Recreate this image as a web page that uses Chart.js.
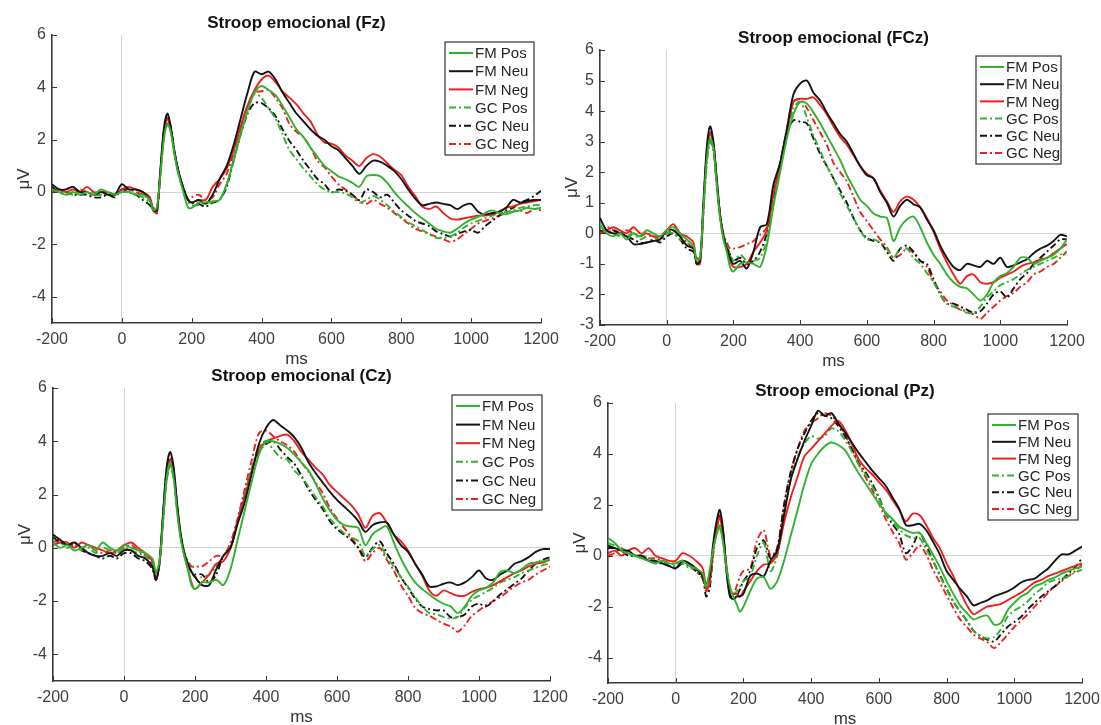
<!DOCTYPE html>
<html>
<head>
<meta charset="utf-8">
<script src="https://cdn.jsdelivr.net/npm/chart.js@4.4.0/dist/chart.umd.min.js"></script>
<style>
  body { margin: 0; background: #fff; }
  #page { position: relative; width: 1101px; height: 725px; overflow: hidden; background: #fff; }
  #page canvas { position: absolute; }
</style>
</head>
<body>
<div id="page"></div>
<script>
// time axis (ms), denser around the P1 peak
const times = [-200,-180,-160,-140,-120,-100,-80,-60,-40,-20,0,20,40,60,80,
  90,100,110,120,130,140,150,160,170,180,190,200,
  220,240,260,280,300,320,340,360,380,400,420,440,460,480,500,520,540,560,580,600,
  620,640,660,680,700,720,740,760,780,800,820,840,860,880,900,920,940,960,980,1000,
  1020,1040,1060,1080,1100,1120,1140,1160,1180,1200];

const seriesLabels = ['FM Pos', 'FM Neu', 'FM Neg', 'GC Pos', 'GC Neu', 'GC Neg'];
const xTicks = [-200, 0, 200, 400, 600, 800, 1000, 1200];
const yTicksWide = [-4, -2, 0, 2, 4, 6];
const yTicksFCz = [-3, -2, -1, 0, 1, 2, 3, 4, 5, 6];

// Fz
const fzFmPos = [0.1,0.0,-0.1,0.0,-0.1,0.0,-0.1,0.1,0.0,-0.1,0.0,0.0,-0.1,-0.1,-0.3,
  -0.7,-0.6,0.6,2.0,2.6,2.3,1.5,0.8,0.3,-0.2,-0.6,-0.6,
  -0.4,-0.4,-0.35,-0.3,0.3,1.2,2.2,3.1,3.8,4.05,3.9,3.7,3.3,2.85,2.4,2.1,1.7,1.35,1.0,0.8,0.6,0.5,0.35,0.2,0.6,0.65,0.6,0.35,0.0,-0.3,-0.55,-0.8,-1.0,-1.2,-1.4,-1.5,-1.55,-1.4,-1.2,-1.05,-0.95,-0.8,-0.7,-0.8,-0.85,-0.75,-0.7,-0.6,-0.65,-0.6];
const fzFmNeu = [0.3,0.1,0.1,0.2,0.0,0.0,-0.1,0.0,-0.1,-0.1,0.3,0.1,0.1,0.0,-0.3,
  -0.7,-0.7,0.8,2.4,3.0,2.5,1.6,0.9,0.4,0.0,-0.3,-0.4,
  -0.3,-0.45,-0.1,0.5,1.0,1.8,2.8,3.8,4.6,4.5,4.6,4.3,3.8,3.4,3.0,2.7,2.4,2.15,2.0,1.75,1.6,1.3,1.0,0.7,1.0,1.2,1.15,1.0,0.8,0.5,0.1,-0.25,-0.5,-0.45,-0.4,-0.45,-0.5,-0.65,-0.5,-0.45,-0.75,-0.85,-0.8,-0.75,-0.6,-0.3,-0.4,-0.35,-0.3,-0.3];
const fzFmNeg = [0.0,0.1,0.0,0.1,0.0,0.2,0.0,0.0,0.0,-0.1,0.1,0.2,0.1,0.0,-0.2,
  -0.7,-0.8,0.7,2.2,2.8,2.4,1.6,0.9,0.4,0.0,-0.3,-0.4,
  -0.3,-0.3,0.2,0.5,0.9,1.6,2.5,3.3,3.9,4.3,4.45,4.2,3.85,3.6,3.35,3.0,2.7,2.2,1.9,1.85,1.7,1.4,1.2,1.0,1.3,1.45,1.35,1.1,0.85,0.65,0.2,-0.15,-0.55,-0.65,-0.55,-0.8,-1.0,-1.05,-1.0,-0.95,-0.9,-0.9,-0.85,-0.75,-0.6,-0.55,-0.45,-0.4,-0.35,-0.3];
const fzGcPos = [0.1,0.0,0.0,-0.1,0.0,0.0,-0.1,-0.1,0.0,-0.1,0.0,0.0,-0.1,-0.2,-0.4,
  -0.6,-0.6,0.6,2.0,2.6,2.3,1.5,0.8,0.3,-0.1,-0.4,-0.5,
  -0.5,-0.4,-0.4,-0.3,0.3,1.3,2.4,3.3,3.75,3.6,3.2,2.8,2.2,1.6,1.25,0.9,0.6,0.3,0.1,0.0,0.0,-0.05,-0.2,-0.4,-0.3,-0.15,-0.3,-0.5,-0.75,-0.95,-1.15,-1.3,-1.45,-1.6,-1.75,-1.75,-1.7,-1.55,-1.35,-1.2,-1.1,-1.0,-0.9,-0.8,-0.75,-0.7,-0.6,-0.55,-0.5,-0.5];
const fzGcNeu = [0.2,0.0,0.0,-0.1,-0.1,-0.1,-0.2,-0.2,-0.1,-0.2,0.1,0.0,-0.1,-0.3,-0.5,
  -0.7,-0.8,0.7,2.3,2.9,2.5,1.6,0.9,0.4,0.0,-0.3,-0.4,
  -0.45,-0.55,-0.4,-0.3,0.2,1.2,2.2,3.0,3.4,3.4,3.2,2.9,2.4,1.95,1.6,1.2,0.85,0.5,0.3,0.0,0.1,0.05,-0.1,-0.3,0.1,0.0,-0.2,-0.1,-0.4,-0.7,-0.9,-1.1,-1.2,-1.3,-1.5,-1.6,-1.7,-1.6,-1.5,-1.45,-1.55,-1.3,-1.1,-0.9,-0.7,-0.6,-0.4,-0.3,-0.15,0.05];
const fzGcNeg = [0.0,0.0,-0.1,0.0,0.1,0.0,-0.1,0.0,-0.1,-0.1,0.1,0.1,0.0,-0.1,-0.3,
  -0.6,-0.7,0.7,2.1,2.7,2.4,1.5,0.9,0.4,0.0,-0.3,-0.2,
  -0.1,-0.3,-0.2,0.3,0.7,1.5,2.5,3.3,3.8,3.85,3.9,3.6,3.2,2.6,2.3,2.1,1.7,1.2,0.95,0.6,0.3,0.1,-0.1,-0.35,-0.45,-0.3,-0.45,-0.6,-0.8,-1.0,-1.2,-1.4,-1.5,-1.6,-1.7,-1.8,-1.9,-1.8,-1.6,-1.4,-1.2,-1.1,-1.0,-0.9,-0.8,-0.75,-0.7,-0.8,-0.65,-0.7];

// FCz
const fczFmPos = [0.3,0.0,-0.1,0.0,-0.2,0.0,-0.1,0.1,0.0,-0.1,0.1,0.2,0.0,-0.2,-0.4,
  -0.9,-0.8,0.8,2.4,3.1,2.8,1.6,0.5,-0.2,-0.6,-1.1,-1.25,
  -1.0,-0.95,-1.0,-1.1,-0.4,0.9,2.0,3.1,3.9,4.3,4.25,3.95,3.6,3.2,2.8,2.4,1.9,1.5,1.1,0.9,0.65,0.55,0.5,-0.25,0.2,0.45,0.55,0.2,-0.3,-0.7,-1.0,-1.35,-1.6,-1.75,-1.8,-2.0,-2.2,-2.0,-1.6,-1.4,-1.3,-1.1,-0.8,-0.8,-1.0,-0.9,-0.8,-0.7,-0.5,-0.2];
const fczFmNeu = [0.5,0.1,0.0,0.0,-0.1,-0.35,-0.35,-0.3,-0.25,-0.2,0.1,0.1,-0.1,-0.4,-0.5,
  -1.0,-0.9,1.0,2.8,3.5,3.0,1.8,0.6,-0.1,-0.5,-0.8,-1.0,
  -0.9,-1.15,-0.6,0.2,0.3,1.6,2.3,3.4,4.55,4.9,5.0,4.6,4.35,3.95,3.6,3.25,3.0,2.6,2.2,1.9,1.8,1.35,1.0,0.55,0.9,1.1,0.95,0.85,0.45,0.1,-0.4,-0.8,-1.1,-1.2,-1.0,-1.05,-1.1,-0.9,-1.0,-0.8,-1.1,-1.05,-0.95,-0.85,-0.65,-0.5,-0.4,-0.25,-0.05,-0.1];
const fczFmNeg = [0.0,0.1,0.2,0.1,0.0,0.2,0.0,0.0,-0.1,-0.1,0.1,0.3,0.0,-0.1,-0.3,
  -1.0,-1.0,0.8,2.6,3.3,2.9,1.7,0.6,-0.1,-0.5,-0.9,-1.1,
  -1.1,-1.0,-0.6,-0.3,0.1,1.3,2.2,3.3,4.3,4.4,4.4,4.45,4.2,3.9,3.5,3.15,2.9,2.55,2.2,1.95,1.8,1.4,1.05,0.7,1.05,1.2,1.1,0.85,0.5,0.05,-0.5,-0.95,-1.35,-1.65,-1.4,-1.35,-1.6,-1.65,-1.6,-1.45,-1.35,-1.25,-1.1,-1.0,-0.95,-0.85,-0.8,-0.65,-0.5,-0.35];
const fczGcPos = [0.2,0.1,0.0,-0.1,-0.1,0.0,-0.2,-0.1,-0.1,-0.2,0.0,0.0,-0.2,-0.3,-0.5,
  -0.9,-0.8,0.7,2.3,3.0,2.7,1.6,0.5,-0.1,-0.4,-0.7,-0.9,
  -0.7,-0.9,-0.9,-0.8,-0.2,1.0,2.1,3.2,4.1,4.3,3.8,3.2,2.7,2.2,1.8,1.3,0.9,0.5,0.1,-0.2,-0.2,-0.3,-0.5,-0.8,-0.5,-0.5,-0.8,-1.0,-1.3,-1.6,-2.0,-2.3,-2.4,-2.5,-2.6,-2.6,-2.4,-2.1,-1.9,-1.7,-1.6,-1.5,-1.35,-1.2,-1.1,-1.0,-0.9,-0.8,-0.7,-0.6];
const fczGcNeu = [0.1,0.0,0.1,0.0,-0.1,-0.2,-0.3,-0.3,-0.2,-0.3,-0.1,0.0,-0.2,-0.5,-0.6,
  -1.0,-0.9,0.9,2.6,3.3,2.9,1.7,0.6,-0.1,-0.4,-0.7,-0.9,
  -0.8,-1.0,-0.9,-0.6,0.0,1.2,2.3,3.3,3.7,3.65,3.6,3.1,2.6,2.2,1.8,1.4,1.0,0.5,0.1,-0.15,-0.25,-0.3,-0.6,-0.9,-0.5,-0.4,-0.6,-0.9,-1.0,-1.5,-2.0,-2.3,-2.3,-2.4,-2.5,-2.6,-2.55,-2.3,-2.0,-1.9,-2.1,-1.8,-1.5,-1.3,-1.0,-0.8,-0.6,-0.4,-0.2,-0.2];
const fczGcNeg = [0.0,0.2,0.1,0.0,0.1,0.0,-0.1,0.0,-0.1,-0.2,0.0,0.1,-0.1,-0.3,-0.5,
  -0.8,-0.8,0.7,2.3,3.0,2.7,1.6,0.6,0.0,-0.3,-0.5,-0.5,
  -0.45,-0.35,-0.25,-0.05,0.2,1.3,2.3,3.4,4.3,4.4,4.1,3.7,3.3,2.9,2.3,2.0,1.7,1.2,0.7,0.4,0.1,-0.2,-0.45,-0.8,-0.7,-0.5,-0.65,-0.9,-1.1,-1.6,-1.9,-2.2,-2.35,-2.5,-2.55,-2.65,-2.8,-2.6,-2.4,-2.2,-2.05,-1.95,-1.75,-1.6,-1.35,-1.25,-1.1,-1.0,-0.8,-0.6];

// Cz
const czFmPos = [0.2,0.0,0.1,-0.1,0.0,0.1,-0.1,0.2,0.0,-0.1,0.1,0.0,-0.1,-0.2,-0.4,
  -0.9,-0.5,1.0,2.6,3.2,2.6,1.3,0.3,-0.3,-0.8,-1.4,-1.55,
  -1.3,-1.3,-1.2,-1.4,-0.8,0.3,1.4,2.5,3.5,4.0,4.0,3.9,3.75,3.5,3.2,2.9,2.4,1.85,1.4,1.05,0.85,0.8,0.75,0.1,0.5,0.7,0.8,0.2,-0.4,-0.9,-1.3,-1.55,-1.75,-1.95,-2.1,-2.2,-2.45,-2.2,-1.8,-1.6,-1.5,-1.3,-0.9,-0.85,-0.95,-0.8,-0.6,-0.55,-0.5,-0.45];
const czFmNeu = [0.5,0.3,0.1,0.2,0.0,-0.2,-0.3,-0.3,-0.2,-0.3,-0.1,-0.1,-0.3,-0.4,-0.7,
  -1.2,-0.5,1.3,3.0,3.6,3.0,1.6,0.5,-0.2,-0.6,-0.9,-1.1,
  -1.4,-1.4,-0.8,-0.3,0.0,0.9,1.7,2.8,3.9,4.5,4.8,4.6,4.4,4.15,3.75,3.2,2.8,2.45,2.1,1.8,1.55,1.3,1.0,0.6,0.85,0.95,0.95,0.5,0.1,-0.15,-0.6,-1.0,-1.45,-1.45,-1.35,-1.3,-1.4,-1.3,-1.1,-0.85,-1.15,-1.2,-1.0,-0.85,-0.6,-0.5,-0.35,-0.15,-0.05,-0.05];
const czFmNeg = [0.1,0.2,0.2,0.0,0.2,0.1,0.0,-0.1,-0.2,-0.1,0.1,0.2,0.0,-0.2,-0.5,
  -1.2,-0.6,1.1,2.7,3.3,2.8,1.5,0.4,-0.3,-0.8,-1.3,-1.55,
  -1.3,-1.0,-0.6,-0.5,0.0,1.0,1.9,2.9,3.7,4.0,4.1,4.2,4.25,4.0,3.6,3.3,3.0,2.75,2.35,2.1,1.85,1.6,1.25,0.75,1.2,1.3,0.95,0.5,0.25,-0.1,-0.6,-1.05,-1.6,-1.8,-1.6,-1.7,-1.8,-1.8,-1.65,-1.55,-1.5,-1.4,-1.25,-1.1,-0.95,-0.85,-0.7,-0.6,-0.55,-0.45];
const czGcPos = [0.1,0.2,0.0,0.1,-0.1,0.0,-0.2,0.0,-0.1,-0.2,0.0,-0.1,-0.2,-0.3,-0.5,
  -1.0,-0.5,1.0,2.5,3.0,2.6,1.4,0.4,-0.2,-0.6,-0.9,-1.1,
  -1.1,-1.0,-0.7,-0.3,0.0,1.0,2.0,3.0,3.8,4.0,3.7,3.4,3.3,2.9,2.65,2.3,1.9,1.55,1.1,0.8,0.55,0.4,0.25,-0.3,-0.05,0.1,-0.35,-0.7,-1.1,-1.45,-1.85,-2.2,-2.45,-2.5,-2.6,-2.65,-2.6,-2.25,-1.95,-1.8,-1.65,-1.5,-1.3,-1.2,-1.1,-0.95,-0.85,-0.75,-0.65,-0.6];
const czGcNeu = [0.4,0.2,0.1,0.1,-0.1,-0.2,-0.3,-0.4,-0.3,-0.4,-0.2,-0.2,-0.4,-0.5,-0.8,
  -1.2,-0.6,1.2,2.9,3.4,2.9,1.5,0.4,-0.2,-0.6,-0.9,-1.0,
  -1.0,-1.3,-1.0,-0.3,0.0,1.0,2.0,2.9,3.6,3.9,4.0,3.7,3.4,3.15,2.7,2.2,1.8,1.45,1.0,0.7,0.5,0.3,0.0,-0.35,0.0,0.25,-0.2,-0.6,-1.1,-1.5,-1.9,-2.2,-2.3,-2.35,-2.35,-2.6,-2.6,-2.5,-2.2,-2.1,-2.2,-2.0,-1.75,-1.55,-1.35,-1.15,-0.85,-0.6,-0.45,-0.35];
const czGcNeg = [0.2,0.3,0.1,0.2,0.0,0.1,-0.1,-0.2,-0.1,-0.2,0.0,0.1,-0.1,-0.3,-0.6,
  -1.1,-0.6,1.0,2.6,3.1,2.7,1.4,0.4,-0.2,-0.5,-0.7,-0.7,
  -0.7,-0.5,-0.3,-0.3,0.2,1.1,2.2,3.3,4.3,4.4,4.2,4.0,3.85,3.6,3.2,2.85,2.45,2.05,1.5,1.1,0.75,0.4,0.0,-0.5,-0.2,0.0,-0.45,-0.85,-1.4,-1.8,-2.25,-2.45,-2.55,-2.7,-2.85,-2.95,-3.15,-2.9,-2.55,-2.35,-2.15,-2.0,-1.85,-1.65,-1.45,-1.3,-1.2,-1.0,-0.85,-0.7];

// Pz
const pzFmPos = [0.7,0.5,0.2,0.1,0.0,-0.1,-0.2,-0.3,-0.2,-0.3,-0.3,-0.2,-0.4,-0.5,-0.7,
  -1.2,-0.6,0.2,0.8,1.1,0.5,-0.5,-1.2,-1.6,-1.9,-2.2,-2.0,
  -1.4,-0.9,-0.85,-1.3,-1.0,-0.2,0.8,1.8,2.8,3.6,4.0,4.3,4.45,4.35,4.15,3.7,3.25,2.85,2.45,2.05,1.7,1.45,1.15,1.0,0.9,0.9,0.5,0.05,-0.45,-1.0,-1.5,-1.95,-2.25,-2.5,-2.4,-2.35,-2.7,-2.65,-2.15,-1.85,-1.6,-1.45,-1.2,-1.1,-0.95,-0.85,-0.7,-0.6,-0.5,-0.42];
const pzFmNeu = [0.4,0.3,0.2,0.2,0.0,0.0,-0.2,-0.2,-0.3,-0.4,-0.5,-0.2,-0.3,-0.5,-0.8,
  -1.1,-0.8,0.4,1.3,1.8,1.0,-0.6,-1.6,-1.7,-1.6,-1.6,-1.5,
  -0.8,-0.7,-0.8,-0.2,0.2,1.6,3.0,3.8,4.5,5.1,5.7,5.5,5.6,5.2,4.85,4.45,4.05,3.7,3.35,3.05,2.75,2.3,1.85,1.2,1.2,1.25,1.0,0.55,0.05,-0.6,-0.95,-1.3,-1.6,-1.95,-1.85,-1.75,-1.6,-1.5,-1.4,-1.25,-1.05,-0.95,-0.9,-0.7,-0.5,-0.2,0.05,0.05,0.2,0.36];
const pzFmNeg = [0.1,0.2,0.0,0.2,0.3,0.1,0.3,0.0,-0.1,-0.2,-0.2,0.1,0.0,-0.2,-0.5,
  -1.3,-1.1,0.1,1.0,1.5,0.8,-0.4,-1.3,-1.5,-1.5,-1.6,-1.4,
  -1.0,-0.6,-0.35,-0.3,0.1,1.3,2.3,3.1,3.9,4.2,4.5,4.8,5.1,5.3,4.95,4.4,3.8,3.45,3.2,2.9,2.6,2.2,1.8,1.35,1.65,1.6,1.2,0.7,0.3,-0.3,-0.8,-1.4,-1.95,-2.3,-2.15,-2.0,-1.95,-1.9,-1.75,-1.6,-1.45,-1.25,-1.05,-0.95,-0.8,-0.7,-0.6,-0.5,-0.4,-0.3];
const pzGcPos = [0.5,0.4,0.3,0.1,0.0,0.0,-0.1,-0.2,-0.3,-0.4,-0.4,-0.3,-0.5,-0.5,-0.8,
  -1.3,-1.0,0.0,0.9,1.2,0.6,-0.5,-1.3,-1.5,-1.4,-1.2,-1.0,
  -0.8,0.0,0.5,-0.6,0.0,1.6,3.0,3.9,4.4,4.7,4.6,4.7,5.0,4.9,4.55,4.1,3.6,3.2,2.75,2.25,1.65,1.35,1.05,0.8,0.7,0.7,0.25,-0.2,-0.8,-1.3,-1.8,-2.2,-2.55,-2.95,-3.15,-3.25,-3.2,-2.9,-2.4,-2.15,-2.0,-1.8,-1.5,-1.3,-1.05,-0.95,-0.9,-0.8,-0.65,-0.55];
const pzGcNeu = [0.3,0.3,0.2,0.0,0.0,-0.1,-0.2,-0.3,-0.3,-0.4,-0.5,-0.3,-0.4,-0.6,-0.9,
  -1.6,-1.3,0.0,1.0,1.6,0.9,-0.6,-1.5,-1.7,-1.6,-1.3,-1.0,
  -0.6,0.3,0.6,-0.1,0.3,2.0,3.3,4.2,4.8,5.3,5.6,5.5,5.4,5.1,4.7,4.2,3.65,3.3,2.85,2.3,1.65,1.25,0.85,0.1,0.4,0.9,0.4,-0.2,-0.75,-1.3,-1.8,-2.2,-2.55,-2.95,-3.15,-3.3,-3.37,-3.1,-2.8,-2.6,-2.4,-2.1,-1.85,-1.6,-1.4,-1.2,-0.95,-0.7,-0.45,-0.1];
const pzGcNeg = [0.0,0.1,0.3,0.1,0.0,0.0,-0.1,-0.1,-0.2,-0.3,-0.3,-0.2,-0.3,-0.6,-0.9,
  -1.4,-1.0,0.2,1.2,1.6,0.8,-0.5,-1.3,-1.5,-1.2,-0.8,-0.6,
  -0.5,0.6,1.0,0.0,0.3,2.0,3.3,4.2,4.9,5.2,5.4,5.6,5.5,5.2,4.75,4.2,3.6,3.1,2.6,2.05,1.45,0.95,0.5,-0.15,0.1,0.4,0.05,-0.55,-1.05,-1.55,-2.05,-2.5,-2.8,-3.1,-3.25,-3.4,-3.63,-3.4,-3.1,-2.8,-2.55,-2.3,-2.0,-1.75,-1.45,-1.2,-1.0,-0.8,-0.6,-0.36];

// styling
const GREEN = '#2fb32f', BLACK = '#141414', RED = '#ee1f1f';
const seriesColors = [GREEN, BLACK, RED, GREEN, BLACK, RED];
const DASH_DOT = [7, 3, 2, 3];
const seriesDash = [[], [], [], DASH_DOT, DASH_DOT, DASH_DOT];
const AXIS = '#3a3a3a';
const TICK_TEXT = '#404040';
const FONT = '"Liberation Sans", Arial, Helvetica, sans-serif';

// margins around each plot area inside its canvas
const Y_W = 56, PAD_R = 26, PAD_T = 40, X_H = 46;

const panels = [
  { title: 'Stroop emocional (Fz)', series: [fzFmPos, fzFmNeu, fzFmNeg, fzGcPos, fzGcNeu, fzGcNeg],
    yMin: -5, yMax: 6, yTicks: yTicksWide,
    area: { left: 52, top: 35, right: 541, bottom: 323 },
    legend: { gapR: 7, gapT: 7, w: 89, h: 113 } },
  { title: 'Stroop emocional (FCz)', series: [fczFmPos, fczFmNeu, fczFmNeg, fczGcPos, fczGcNeu, fczGcNeg],
    yMin: -3, yMax: 6, yTicks: yTicksFCz,
    area: { left: 600, top: 50, right: 1067, bottom: 325 },
    legend: { gapR: 6, gapT: 6, w: 85, h: 108 } },
  { title: 'Stroop emocional (Cz)', series: [czFmPos, czFmNeu, czFmNeg, czGcPos, czGcNeu, czGcNeg],
    yMin: -5, yMax: 6, yTicks: yTicksWide,
    area: { left: 53, top: 388, right: 550, bottom: 681 },
    legend: { gapR: 8, gapT: 7, w: 90, h: 115 } },
  { title: 'Stroop emocional (Pz)', series: [pzFmPos, pzFmNeu, pzFmNeg, pzGcPos, pzGcNeu, pzGcNeg],
    yMin: -5, yMax: 6, yTicks: yTicksWide,
    area: { left: 608, top: 403, right: 1082, bottom: 683 },
    legend: { gapR: 4, gapT: 11, w: 90, h: 106 } }
];

// title, axis labels, inward tick marks and the boxed legend
const panelDecor = {
  id: 'panelDecor',
  afterDraw(chart, args, opts) {
    const { ctx, chartArea: a, scales: { x, y } } = chart;
    ctx.save();

    ctx.strokeStyle = AXIS;
    ctx.lineWidth = 1;
    ctx.beginPath();
    x.ticks.forEach(t => {
      const px = Math.round(x.getPixelForValue(t.value)) + 0.5;
      ctx.moveTo(px, a.bottom); ctx.lineTo(px, a.bottom - 5);
    });
    y.ticks.forEach(t => {
      const py = Math.round(y.getPixelForValue(t.value)) + 0.5;
      ctx.moveTo(a.left, py); ctx.lineTo(a.left + 5, py);
    });
    ctx.stroke();

    const cx = (a.left + a.right) / 2;
    ctx.fillStyle = '#111';
    ctx.textAlign = 'center';
    ctx.textBaseline = 'middle';
    ctx.font = 'bold 17px ' + FONT;
    ctx.fillText(opts.title, cx, a.top - 12);

    ctx.fillStyle = '#333';
    ctx.font = '17px ' + FONT;
    ctx.fillText('ms', cx, a.bottom + 36);

    ctx.save();
    ctx.translate(a.left - 28, (a.top + a.bottom) / 2);
    ctx.rotate(-Math.PI / 2);
    ctx.fillText('\u03bcV', 0, 0);
    ctx.restore();

    const lg = opts.legend;
    const bx = a.right - lg.gapR - lg.w, by = a.top + lg.gapT;
    ctx.fillStyle = '#fff';
    ctx.fillRect(bx, by, lg.w, lg.h);
    ctx.strokeStyle = '#333';
    ctx.lineWidth = 1.2;
    ctx.strokeRect(bx, by, lg.w, lg.h);
    const step = (lg.h - 22) / 5;
    ctx.font = '15px ' + FONT;
    ctx.textAlign = 'left';
    chart.data.datasets.forEach((ds, i) => {
      const ly = by + 11 + i * step;
      ctx.strokeStyle = ds.borderColor;
      ctx.lineWidth = 2;
      ctx.setLineDash(ds.borderDash);
      ctx.beginPath();
      ctx.moveTo(bx + 4, ly); ctx.lineTo(bx + 28, ly);
      ctx.stroke();
      ctx.setLineDash([]);
      ctx.fillStyle = '#262626';
      ctx.fillText(ds.label, bx + 30, ly + 1);
    });
    ctx.restore();
  }
};

const zeroGrid = c => (c.tick && c.tick.value === 0 ? '#d4d4d4' : 'rgba(0,0,0,0)');
const plainNumber = v => String(v);

const page = document.getElementById('page');
panels.forEach(p => {
  const a = p.area;
  const w = a.right - a.left + Y_W + PAD_R;
  const h = a.bottom - a.top + PAD_T + X_H;
  const canvas = document.createElement('canvas');
  canvas.width = w; canvas.height = h;
  canvas.style.left = (a.left - Y_W) + 'px';
  canvas.style.top = (a.top - PAD_T) + 'px';
  canvas.style.width = w + 'px';
  canvas.style.height = h + 'px';
  page.appendChild(canvas);

  const datasets = p.series.map((vals, i) => ({
    label: seriesLabels[i],
    data: vals.map((v, k) => ({ x: times[k], y: v })),
    borderColor: seriesColors[i],
    borderDash: seriesDash[i],
    borderWidth: 1.9,
    pointRadius: 0,
    tension: 0.3,
    fill: false
  }));

  new Chart(canvas, {
    type: 'line',
    data: { datasets },
    plugins: [panelDecor],
    options: {
      responsive: false,
      animation: false,
      devicePixelRatio: 1,
      layout: { padding: { top: PAD_T, right: PAD_R, left: 0, bottom: 0 } },
      plugins: {
        legend: { display: false },
        title: { display: false },
        tooltip: { enabled: false },
        panelDecor: { title: p.title, legend: p.legend }
      },
      scales: {
        x: {
          type: 'linear', min: -200, max: 1200,
          afterBuildTicks: s => { s.ticks = xTicks.map(v => ({ value: v })); },
          afterFit: s => { s.height = X_H; },
          grid: { color: zeroGrid, lineWidth: 1, drawTicks: false },
          border: { display: true, color: AXIS, width: 1.6 },
          ticks: { padding: 7, color: TICK_TEXT, font: { family: FONT, size: 16 }, maxRotation: 0, autoSkip: false, callback: plainNumber }
        },
        y: {
          type: 'linear', min: p.yMin, max: p.yMax,
          afterBuildTicks: s => { s.ticks = p.yTicks.map(v => ({ value: v })); },
          afterFit: s => { s.width = Y_W; },
          grid: { color: zeroGrid, lineWidth: 1, drawTicks: false },
          border: { display: true, color: AXIS, width: 1.6 },
          ticks: { padding: 6, color: TICK_TEXT, font: { family: FONT, size: 16 }, autoSkip: false, callback: plainNumber }
        }
      }
    }
  });
});
</script>
</body>
</html>
